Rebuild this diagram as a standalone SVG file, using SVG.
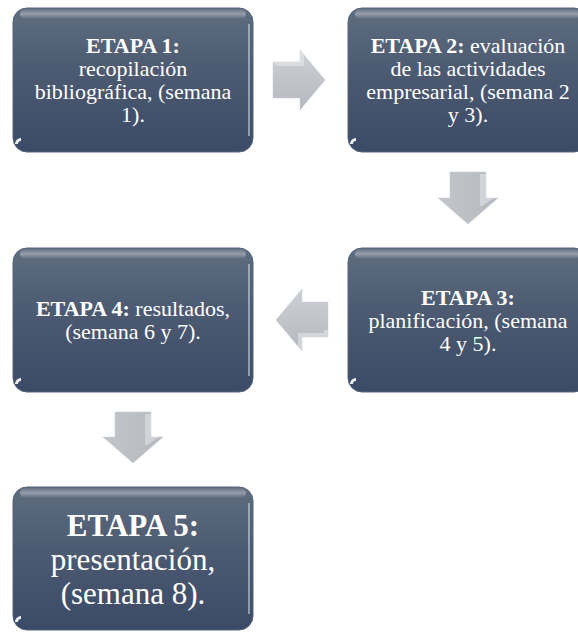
<svg xmlns="http://www.w3.org/2000/svg" width="578" height="632" viewBox="0 0 578 632">
<defs>
<linearGradient id="boxg" x1="0" y1="0" x2="0" y2="1">
<stop offset="0" stop-color="#5f6d80"/>
<stop offset="0.5" stop-color="#4a5870"/>
<stop offset="1" stop-color="#3b4a67"/>
</linearGradient>
<linearGradient id="gloss" x1="0" y1="0" x2="0" y2="1">
<stop offset="0" stop-color="#ffffff" stop-opacity="0.05"/>
<stop offset="0.5" stop-color="#ffffff" stop-opacity="0.35"/>
<stop offset="1" stop-color="#ffffff" stop-opacity="0"/>
</linearGradient>
<linearGradient id="arrg" x1="0" y1="0" x2="0" y2="1">
<stop offset="0" stop-color="#cdd0d5"/>
<stop offset="1" stop-color="#b5b9bf"/>
</linearGradient>
<linearGradient id="arrgh" x1="0" y1="0" x2="1" y2="0">
<stop offset="0" stop-color="#c2c5ca"/>
<stop offset="1" stop-color="#b6bac0"/>
</linearGradient>
</defs>
<style>
.box{fill:url(#boxg);stroke:#56657c;stroke-width:1}
.gl{fill:url(#gloss)}
.rim{stroke:#cfdaea;stroke-width:1.5;stroke-opacity:0.75;fill:none}
.glint{fill:#ffffff;fill-opacity:0.9}
text{font-family:'Liberation Serif',serif;fill:#ffffff;text-anchor:middle}
.t{font-size:22px}
.t5{font-size:31px}
.b{font-weight:bold}
.arr{fill:url(#arrg);stroke:#c9ccd1;stroke-width:0.5}
.arrh{fill:url(#arrgh);stroke:#c9ccd1;stroke-width:0.5}
.bev{fill:#ffffff;fill-opacity:0.35}
</style>

<g id="node1">
<rect class="box" x="13" y="8" width="240" height="144" rx="14"/>
<rect class="gl" x="20" y="9" width="226" height="10" rx="5"/>
<path class="rim" d="M249,24 V136"/>
<path class="glint" d="M15,144 a6,6 0 0 1 6,-6 v3 a3,3 0 0 0 -3,3 z"/>
<text class="t" x="133" font-family="Liberation Serif, serif"><tspan class="b" x="133" y="53">ETAPA 1:</tspan><tspan x="133" y="76">recopilación</tspan><tspan x="133" y="99">bibliográfica, (semana</tspan><tspan x="133" y="122">1).</tspan></text>
</g>

<g id="node2">
<rect class="box" x="348" y="8" width="240" height="144" rx="14"/>
<rect class="gl" x="355" y="9" width="226" height="10" rx="5"/>
<path class="glint" d="M350,144 a6,6 0 0 1 6,-6 v3 a3,3 0 0 0 -3,3 z"/>
<text class="t" x="468" font-family="Liberation Serif, serif"><tspan x="468" y="53"><tspan class="b">ETAPA 2:</tspan> evaluación</tspan><tspan x="468" y="76">de las actividades</tspan><tspan x="468" y="99">empresarial, (semana 2</tspan><tspan x="468" y="122">y 3).</tspan></text>
</g>

<g id="node3">
<rect class="box" x="348" y="248" width="240" height="144" rx="14"/>
<rect class="gl" x="355" y="249" width="226" height="10" rx="5"/>
<path class="glint" d="M350,384 a6,6 0 0 1 6,-6 v3 a3,3 0 0 0 -3,3 z"/>
<text class="t" x="468" font-family="Liberation Serif, serif"><tspan class="b" x="468" y="305">ETAPA 3:</tspan><tspan x="468" y="328">planificación, (semana</tspan><tspan x="468" y="351">4 y 5).</tspan></text>
</g>

<g id="node4">
<rect class="box" x="13" y="248" width="240" height="144" rx="14"/>
<rect class="gl" x="20" y="249" width="226" height="10" rx="5"/>
<path class="rim" d="M249,264 V376"/>
<path class="glint" d="M15,384 a6,6 0 0 1 6,-6 v3 a3,3 0 0 0 -3,3 z"/>
<text class="t" x="133" font-family="Liberation Serif, serif"><tspan x="133" y="316"><tspan class="b">ETAPA 4:</tspan> resultados,</tspan><tspan x="133" y="339">(semana 6 y 7).</tspan></text>
</g>

<g id="node5">
<rect class="box" x="13" y="487" width="240" height="143" rx="14"/>
<rect class="gl" x="20" y="488" width="226" height="10" rx="5"/>
<path class="rim" d="M249,503 V614"/>
<path class="glint" d="M15,622 a6,6 0 0 1 6,-6 v3 a3,3 0 0 0 -3,3 z"/>
<text class="t5" x="133" font-family="Liberation Serif, serif"><tspan class="b" x="133" y="536">ETAPA 5:</tspan><tspan x="133" y="570">presentación,</tspan><tspan x="133" y="604">(semana 8).</tspan></text>
</g>

<g id="connectors">
<g id="arrow1-2">
<path class="arr" d="M273,62 H300 V50 L325,80 L300,110 V98 H273 Z"/>
<path class="bev" d="M273,62 H300 V50 L304,56 V66 H277 Z"/>
</g>
<g id="arrow2-3">
<path class="arrh" d="M450,172 H486 V198 H498 L468,224 L438,198 H450 Z"/>
<path class="bev" d="M480,174 H486 V198 H494 L482,206 H480 Z"/>
</g>
<g id="arrow3-4">
<path class="arr" d="M328,302 H302 V289 L276,320 L302,351 V337 H328 Z"/>
<path class="bev" d="M324,330 H328 V337 H302 V351 L298,346 V333 H324 Z"/>
</g>
<g id="arrow4-5">
<path class="arrh" d="M115,412 H151 V437 H163 L133,463 L103,437 H115 Z"/>
<path class="bev" d="M145,414 H151 V437 H159 L147,445 H145 Z"/>
</g>
</g>
</svg>
